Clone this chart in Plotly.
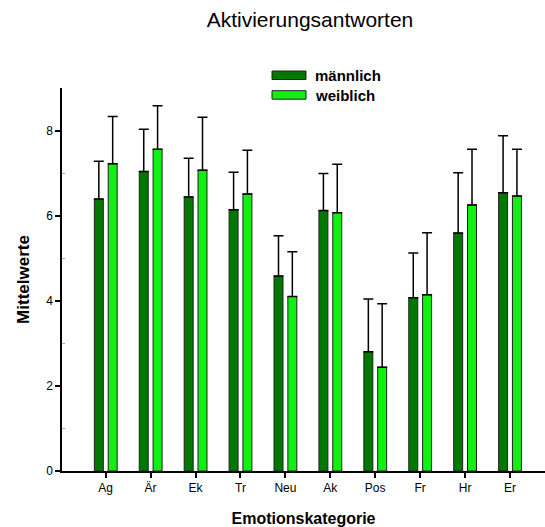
import plotly.graph_objects as go

# Emotion categories and mean activation ratings
categories = ["Ag", "Är", "Ek", "Tr", "Neu", "Ak", "Pos", "Fr", "Hr", "Er"]
maennlich = [6.39, 7.04, 6.44, 6.14, 4.58, 6.12, 2.80, 4.07, 5.59, 6.54]
weiblich = [7.22, 7.56, 7.07, 6.51, 4.10, 6.07, 2.44, 4.14, 6.25, 6.46]
# Standard deviations (drawn upward only)
sd_maennlich = [0.89, 0.99, 0.91, 0.88, 0.95, 0.87, 1.24, 1.05, 1.42, 1.34]
sd_weiblich = [1.11, 1.02, 1.24, 1.03, 1.05, 1.14, 1.49, 1.46, 1.31, 1.10]

dark_green = "#007800"
light_green = "#12f012"
font_family = "Liberation Sans, Arial, sans-serif"

fig = go.Figure()

for name, vals, sd, color, offset in [
    ("männlich", maennlich, sd_maennlich, dark_green, -0.253),
    ("weiblich", weiblich, sd_weiblich, light_green, 0.055),
]:
    fig.add_trace(go.Bar(
        x=categories, y=vals, name=name,
        width=0.2, offset=offset,
        marker=dict(color=color, line=dict(color="#222222", width=1)),
        error_y=dict(type="data", array=sd, arrayminus=[0] * len(sd),
                     symmetric=False, color="black", thickness=1.5, width=5),
        showlegend=False,
    ))

# Legend drawn as wide swatches with bold labels (paper coords of the plot area)
plot_left, plot_width, plot_bottom, plot_height = 62, 483, 471, 383
legend_items = [("männlich", dark_green), ("weiblich", light_green)]
for i, (label, color) in enumerate(legend_items):
    top = 71 + i * 19.7
    fig.add_shape(type="rect", xref="paper", yref="paper",
                  x0=(272 - plot_left) / plot_width, x1=(306 - plot_left) / plot_width,
                  y0=(plot_bottom - (top + 8.5)) / plot_height,
                  y1=(plot_bottom - top) / plot_height,
                  fillcolor=color, line=dict(color="#222222", width=1))
    fig.add_annotation(xref="paper", yref="paper",
                       x=(313 - plot_left) / plot_width,
                       y=(plot_bottom - (top + 4.5)) / plot_height,
                       text=f"<b>{label}</b>", showarrow=False,
                       xanchor="left", yanchor="middle",
                       font=dict(family=font_family, size=15, color="black"))

fig.update_layout(
    width=545, height=527,
    margin=dict(l=62, r=0, t=88, b=56),
    paper_bgcolor="white", plot_bgcolor="white",
    barmode="overlay",
    font=dict(family=font_family, color="black"),
    title=dict(text="Aktivierungsantworten", x=310 / 545, xanchor="center",
               y=1 - 20 / 527, yanchor="middle",
               font=dict(family=font_family, size=21, color="black")),
    xaxis=dict(
        type="category", range=[-0.973, 9.78],
        showline=True, linecolor="black", linewidth=1.5,
        ticks="outside", ticklen=5, tickcolor="black", tickwidth=1.5,
        tickfont=dict(size=12), showgrid=False, zeroline=False,
        title=dict(text="<b>Emotionskategorie</b>", font=dict(size=16), standoff=20),
    ),
    yaxis=dict(
        range=[0, 9], tickvals=[0, 2, 4, 6, 8],
        showline=True, linecolor="black", linewidth=1.5,
        ticks="outside", ticklen=5, tickcolor="black", tickwidth=1.5,
        tickfont=dict(size=12), showgrid=False, zeroline=False,
        minor=dict(tickvals=[1, 3, 5, 7], ticks="inside", ticklen=3,
                   tickcolor="#aaaaaa", tickwidth=1),
        title=dict(text="<b>Mittelwerte</b>", font=dict(size=17), standoff=12),
    ),
)

fig.write_html("out.html")
